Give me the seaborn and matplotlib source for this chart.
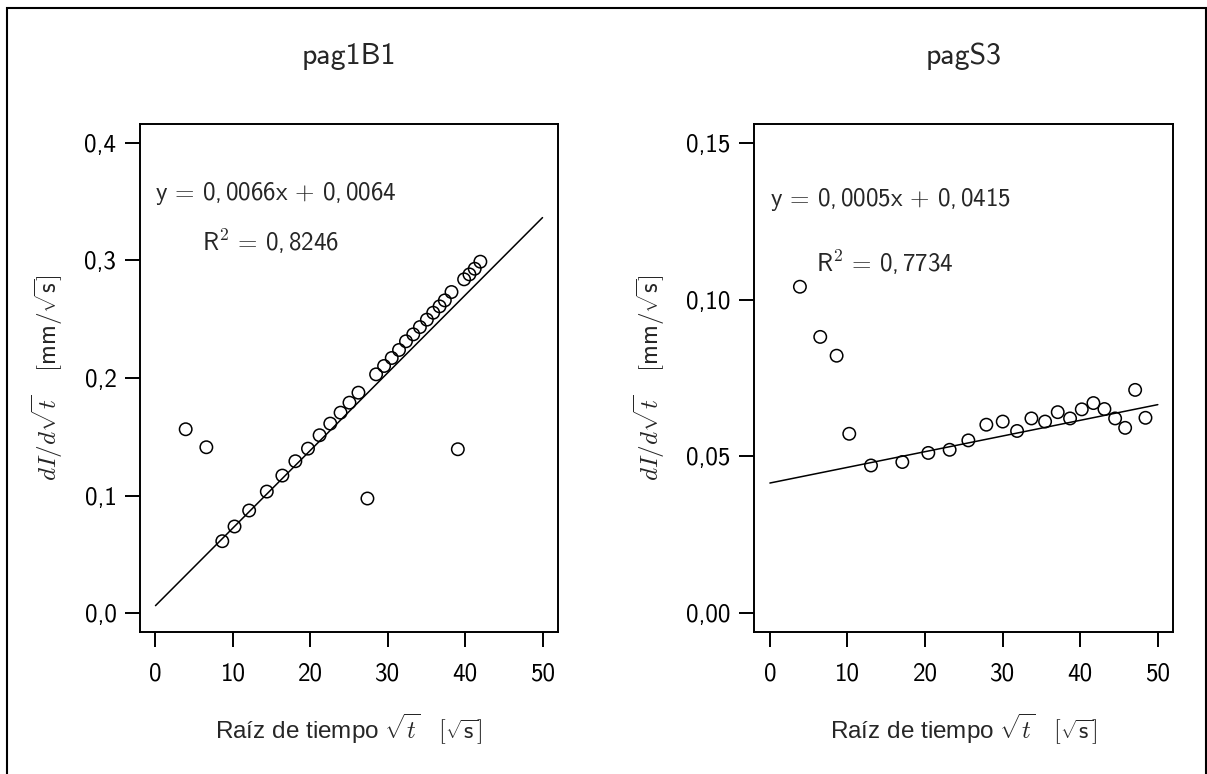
import matplotlib
matplotlib.use("Agg")
import matplotlib.pyplot as plt
from matplotlib.patches import Rectangle
import pandas as pd
import seaborn as sns

# ---- sample pag1B1 ----
x_b1 = [3.9, 6.57, 8.63, 10.21, 12.10, 14.38, 16.39, 18.07, 19.70, 21.20,
        22.58, 23.91, 25.06, 26.22, 27.38, 28.50, 29.53, 30.52, 31.46, 32.36,
        33.30, 34.16, 35.06, 35.88, 36.70, 37.38, 38.24, 39.06, 39.87, 40.56,
        41.24, 41.97]
y_b1 = [0.1564, 0.1411, 0.0612, 0.0737, 0.0873, 0.1034, 0.1170, 0.1292, 0.1399, 0.1513,
        0.1612, 0.1705, 0.1790, 0.1875, 0.0975, 0.2031, 0.2102, 0.2170, 0.2238, 0.2312,
        0.2371, 0.2433, 0.2496, 0.2555, 0.2609, 0.2660, 0.2731, 0.1394, 0.2839, 0.2881,
        0.2929, 0.2989]
slope_b1, icpt_b1, r2_b1 = 0.0066, 0.0064, 0.8246

# ---- sample pagS3 ----
x_s3 = [3.87, 6.49, 8.60, 10.23, 13.03, 17.07, 20.42, 23.17, 25.58, 27.90,
        30.01, 31.86, 33.71, 35.47, 37.10, 38.69, 40.20, 41.70, 43.12, 44.50,
        45.79, 47.08, 48.41]
y_s3 = [0.1041, 0.0881, 0.0821, 0.0572, 0.0471, 0.0482, 0.0511, 0.0521, 0.0551, 0.0601,
        0.0611, 0.0581, 0.0621, 0.0611, 0.0641, 0.0621, 0.0650, 0.0670, 0.0651, 0.0621,
        0.0591, 0.0712, 0.0623]
slope_s3, icpt_s3, r2_s3 = 0.0005, 0.0415, 0.7734

titles = ["pag1B1", "pagS3"]
x_ticks = [0, 10, 20, 30, 40, 50]
x_ticklabels = ["0", "10", "20", "30", "40", "50"]
y_ticks_b1 = [0.0, 0.1, 0.2, 0.3, 0.4]
y_ticklabels_b1 = ["0,0", "0,1", "0,2", "0,3", "0,4"]
y_ticks_s3 = [0.00, 0.05, 0.10, 0.15]
y_ticklabels_s3 = ["0,00", "0,05", "0,10", "0,15"]
fit_range = [0, 50]

sns.set_style("ticks")
plt.rcParams["font.family"] = ["cmss10", "DejaVu Sans"]
plt.rcParams["mathtext.fontset"] = "cm"
plt.rcParams["axes.unicode_minus"] = False
plt.rcParams["axes.edgecolor"] = "black"
plt.rcParams["xtick.color"] = "black"
plt.rcParams["ytick.color"] = "black"
plt.rcParams["xtick.major.width"] = 1.4
plt.rcParams["ytick.major.width"] = 1.4
plt.rcParams["xtick.major.size"] = 11
plt.rcParams["ytick.major.size"] = 11

FS = 18


def dec_parts(v, nd=4):
    return f"{v:.{nd}f}".split(".")


def eq_text(slope, icpt):
    a, b = dec_parts(slope)
    c, d = dec_parts(icpt)
    return f"y$\\,=\\,${a},$\\,${b}x$\\,+\\,${c},$\\,${d}"


def r2_text(r2):
    a, b = dec_parts(r2)
    return f"R$^2$$\\,=\\,${a},$\\,${b}"


# the accented "í" needs a face with Latin-1 glyphs, so this label's
# plain text uses Liberation Sans while its math keeps Computer Modern
xlabel = "Raíz de tiempo $\\sqrt{t}$   $[\\sqrt{\\mathsf{s}}]$"
ylabel = r"$dI/d\sqrt{t}$   $[\mathsf{mm}/\sqrt{\mathsf{s}}]$"

fig = plt.figure(figsize=(12.07, 7.74), dpi=100)
ax1 = fig.add_axes([0.116, 0.1835, 0.3463, 0.6563])
ax2 = fig.add_axes([0.625, 0.1835, 0.3471, 0.6563])

panels = [
    (ax1, x_b1, y_b1, slope_b1, icpt_b1, r2_b1, y_ticks_b1, y_ticklabels_b1,
     (0.357, 0.316)),
    (ax2, x_s3, y_s3, slope_s3, icpt_s3, r2_s3, y_ticks_s3, y_ticklabels_s3,
     (0.132, 0.1119)),
]

for i, (ax, xs, ys, m, b, r2, yt, ytl, txt_y) in enumerate(panels):
    df = pd.DataFrame({"x": xs, "y": ys})
    fit = pd.DataFrame({"x": fit_range, "y": [m * v + b for v in fit_range]})
    sns.lineplot(data=fit, x="x", y="y", ax=ax, color="black", linewidth=1.1)
    sns.scatterplot(data=df, x="x", y="y", ax=ax, marker="o", s=80,
                    facecolor="none", edgecolor="black", linewidth=1.1, zorder=3)
    ymax = yt[-1]
    ax.set_xlim(-2, 52)
    ax.set_ylim(-0.04 * ymax, 1.04 * ymax)
    ax.set_xticks(x_ticks, labels=x_ticklabels)
    ax.set_yticks(yt, labels=ytl)
    ax.tick_params(axis="both", labelsize=FS, direction="out")
    ax.tick_params(axis="x", pad=11)
    ax.tick_params(axis="y", pad=6)
    for sp in ax.spines.values():
        sp.set_visible(True)
        sp.set_linewidth(1.4)
    ax.set_title(titles[i], fontsize=21.5, pad=43)
    ax.set_xlabel(xlabel, fontsize=17.5, labelpad=19,
                  fontfamily="Liberation Sans")
    ax.set_ylabel(ylabel, fontsize=FS, labelpad=14)
    ax.text(0, txt_y[0], eq_text(m, b), fontsize=FS, ha="left", va="center")
    ax.text(6, txt_y[1], r2_text(r2), fontsize=FS, ha="left", va="center")

fig.add_artist(Rectangle((7 / 1207, -0.02), 1199 / 1207, 1.02 - 8 / 774,
                         transform=fig.transFigure, fill=False,
                         edgecolor="black", linewidth=1.5, clip_on=False))

fig.savefig("out.png", dpi=100, facecolor="white")
